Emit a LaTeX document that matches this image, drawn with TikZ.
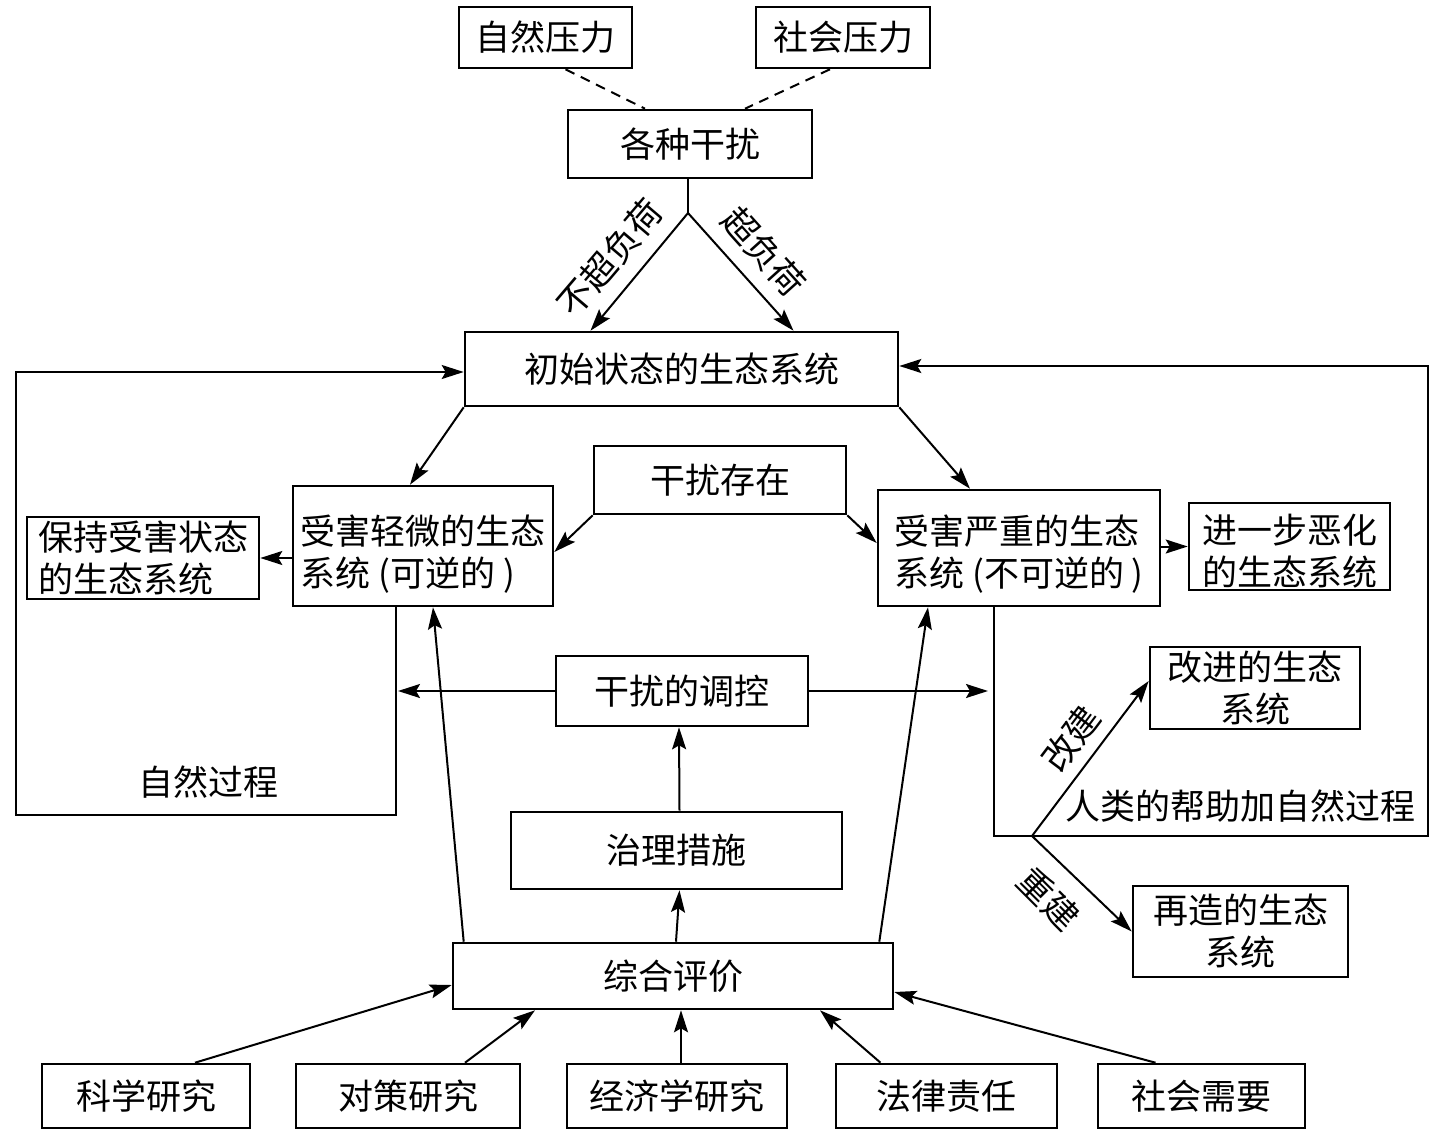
\documentclass[tikz,border=0pt]{standalone}
\usepackage{fontspec}
\newfontfamily\cjk{Noto Sans CJK SC}
\usetikzlibrary{arrows.meta,calc}
\tikzset{
  box/.style={draw, line width=2.6pt, inner sep=0pt, align=center, font=\cjk\fontsize{35}{42}\selectfont},
  lbox/.style={box, align=left},
  lbl/.style={inner sep=0pt, font=\cjk\fontsize{35}{42}\selectfont},
  conn/.style={line width=2pt},
  arr/.style={conn, -{Stealth[length=22pt,width=14pt,inset=4pt]}},
  dsh/.style={line width=2pt, dash pattern=on 10pt off 7pt}
}
\begin{document}
\begin{tikzpicture}[x=1pt,y=-1pt]
\path[fill=white] (0,0) rectangle (1436,1138);
\useasboundingbox (0,0) rectangle (1436,1138);

% boxes
\node[box, minimum width=173pt, minimum height=61pt] (zr) at (545.5,37.5) {自然压力};
\node[box, minimum width=174pt, minimum height=61pt] (sh) at (843,37.5) {社会压力};
\node[box, minimum width=244pt, minimum height=68pt] (gz) at (690,144) {各种干扰};
\node[box, minimum width=433pt, minimum height=74pt] (cs) at (681.5,369) {初始状态的生态系统};
\node[box, minimum width=252pt, minimum height=68pt] (gc) at (720,480) {干扰存在};
\node[lbox, minimum width=260pt, minimum height=120pt] (qw) at (423,546) {\rule{0pt}{46pt}受害轻微的生态\\系统 (可逆的 )};
\node[lbox, minimum width=232pt, minimum height=82pt] (bc) at (143,558) {保持受害状态\\的生态系统};
\node[lbox, minimum width=282pt, minimum height=116pt] (yz) at (1019,548) {\rule{0pt}{42pt}受害严重的生态\\系统 (不可逆的 )};
\node[lbox, minimum width=201pt, minimum height=87pt] (jy) at (1289.5,546.5) {\rule{0pt}{38pt}进一步恶化\\的生态系统};
\node[box, minimum width=252pt, minimum height=70pt] (tk) at (682,691) {干扰的调控};
\node[box, minimum width=210pt, minimum height=82pt] (gj) at (1255,688) {改进的生态\\系统};
\node[box, minimum width=331pt, minimum height=77pt] (zl) at (676.5,850.5) {治理措施};
\node[box, minimum width=215pt, minimum height=91pt] (zz) at (1240.5,931.5) {再造的生态\\系统};
\node[box, minimum width=440pt, minimum height=66pt] (zh) at (673,976) {综合评价};
\node[box, minimum width=208pt, minimum height=64pt] (k1) at (146,1096) {科学研究};
\node[box, minimum width=224pt, minimum height=64pt] (k2) at (408,1096) {对策研究};
\node[box, minimum width=220pt, minimum height=64pt] (k3) at (677,1096) {经济学研究};
\node[box, minimum width=221pt, minimum height=64pt] (k4) at (946.5,1096) {法律责任};
\node[box, minimum width=207pt, minimum height=64pt] (k5) at (1201.5,1096) {社会需要};

% labels
\node[lbl, rotate=49.6] (l1) at (610,258) {不超负荷};
\node[lbl, rotate=-48] (l2) at (764,252) {超负荷};
\node[lbl] (l3) at (208,782) {自然过程};
\node[lbl] (l4) at (1240,806) {人类的帮助加自然过程};
\node[lbl, rotate=53] (l5) at (1071,739) {改建};
\node[lbl, rotate=-45] (l6) at (1049,899) {重建};

% coordinates
\coordinate (j) at (688,213);
\coordinate (L1) at (396,815);
\coordinate (L2) at (16,815);
\coordinate (L3) at (16,372);
\coordinate (R1) at (994,836);
\coordinate (R2) at (1428,836);
\coordinate (R3) at (1428,366);
\coordinate (K) at (1032,836);
\coordinate (tkl) at (398,691);
\coordinate (tkr) at (988,691);

% dashed
\draw[dsh] ([xshift=20pt]zr.south) -- ([xshift=-45pt]gz.north);
\draw[dsh] ([xshift=-13pt]sh.south) -- ([xshift=55pt]gz.north);

% top split
\draw[conn] ([xshift=-2pt]gz.south) -- (j);
\draw[arr] (j) -- ([xshift=-91pt]cs.north);
\draw[arr] (j) -- ([xshift=112pt]cs.north);

% from initial
\draw[arr] (cs.south west) -- ([xshift=-13pt]qw.north);
\draw[arr] (cs.south east) -- ([xshift=-49pt]yz.north);

% disturbance exists
\draw[arr] (gc.south west) -- ([yshift=-6pt]qw.east);
\draw[arr] (gc.south east) -- ([yshift=5pt]yz.west);

% side
\draw[arr] (qw.west |- bc.east) -- (bc.east);
\draw[arr] (yz.east |- jy.west) -- (jy.west);

% loops
\draw[arr] ([xshift=-27pt]qw.south) -- (L1) -- (L2) -- (L3) -- (L3 -| cs.west);
\draw[arr] ([xshift=-25pt]yz.south) -- (R1) -- (R2) -- (R3) -- (R3 -| cs.east);

% rebuild
\draw[arr] (K) -- ([yshift=7pt]gj.west);
\draw[arr] (K) -- (zz.west);

% regulation
\draw[arr] (tk.west) -- (tkl);
\draw[arr] (tk.east) -- (tkr);
\draw[arr] ([xshift=3pt]zl.north) -- ([xshift=-3pt]tk.south);
\draw[arr] ([xshift=3pt]zh.north) -- ([xshift=3pt]zl.south);
\draw[arr] ([xshift=12pt]zh.north west) -- ([xshift=10pt]qw.south);
\draw[arr] ([xshift=-15pt]zh.north east) -- ([xshift=-91pt]yz.south);

% bottom inputs
\draw[arr] ([xshift=49pt]k1.north) -- ([yshift=-9pt]zh.west);
\draw[arr] ([xshift=57pt]k2.north) -- ([xshift=-138pt]zh.south);
\draw[arr] ([xshift=4pt]k3.north) -- ([xshift=4pt]k3.north |- zh.south);
\draw[arr] ([xshift=-66pt]k4.north) -- ([xshift=147pt]zh.south);
\draw[arr] ([xshift=-46pt]k5.north) -- ([yshift=-16pt]zh.east);
\end{tikzpicture}
\end{document}
